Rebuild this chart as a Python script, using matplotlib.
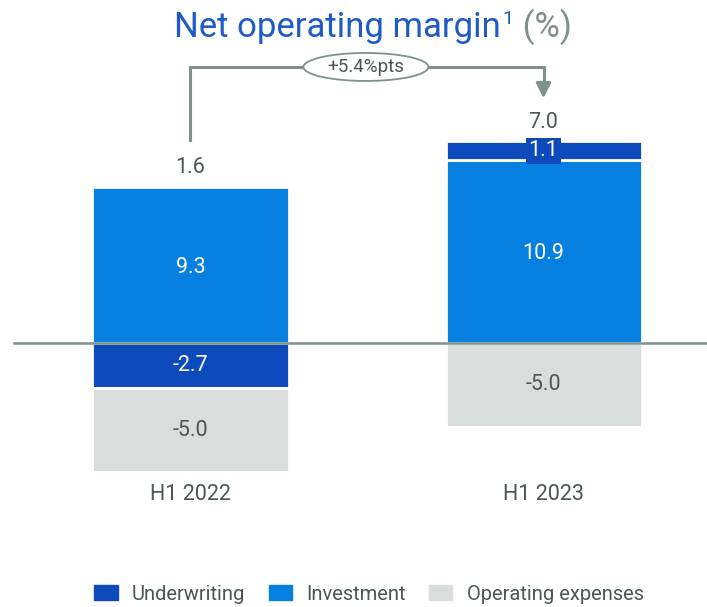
import numpy as np
import matplotlib
matplotlib.use("Agg")
import matplotlib.pyplot as plt
from matplotlib.patches import Ellipse, Patch

plt.rcParams['font.family'] = ['Roboto', 'DejaVu Sans']

# data
periods = ["H1 2022", "H1 2023"]
underwriting = [-2.7, 1.1]
investment = [9.3, 10.9]
opex = [-5.0, -5.0]
totals = [1.6, 7.0]
change_label = "+5.4%pts"

c_uw = "#0D4BBC"
c_inv = "#0580E0"
c_opex = "#D9DEDC"
c_text = "#4A5753"
c_line = "#7E918B"
c_title = "#1E5BC6"

fig = plt.figure(figsize=(7.07, 6.07), dpi=100)
ax = fig.add_axes([0, 0, 1, 1])
# map: bar centres at 190.5px and 543.5px, zero at 343px, 16.8 px per unit
ppu = 16.8
ax.set_xlim(-190.5 / 353, (707 - 190.5) / 353)
ax.set_ylim(-(607 - 343) / ppu, 343 / ppu)
ax.axis("off")

x = np.arange(len(periods))
w = 196 / 353
fs = 15.5

for i in x:
    inv = investment[i]
    uw = underwriting[i]
    op = opex[i]
    ax.bar(i, inv, w, bottom=0, color=c_inv, edgecolor="white", linewidth=2, zorder=2)
    ax.text(i, inv / 2 - 0.15, f"{inv:.1f}", ha="center", va="center", color="white", fontsize=fs, zorder=5)
    if uw >= 0:
        ax.bar(i, uw, w, bottom=inv, color=c_uw, edgecolor="white", linewidth=2, zorder=2)
        ax.text(i, inv + uw / 2, f"{uw:.1f}", ha="center", va="center", color="white", fontsize=fs, zorder=5,
                bbox=dict(boxstyle="square,pad=0.12", fc=c_uw, ec="none"))
        top = inv + uw
        ax.bar(i, op, w, bottom=0, color=c_opex, edgecolor="white", linewidth=2, zorder=2)
        ax.text(i, op / 2, f"{op:.1f}", ha="center", va="center", color=c_text, fontsize=fs, zorder=5)
    else:
        ax.bar(i, uw, w, bottom=0, color=c_uw, edgecolor="white", linewidth=2, zorder=2)
        ax.text(i, uw / 2, f"{uw:.1f}", ha="center", va="center", color="white", fontsize=fs, zorder=5)
        top = inv
        ax.bar(i, op, w, bottom=uw, color=c_opex, edgecolor="white", linewidth=2, zorder=2)
        ax.text(i, uw + op / 2, f"{op:.1f}", ha="center", va="center", color=c_text, fontsize=fs, zorder=5)
    ax.text(i, top + 1.13, f"{totals[i]:.1f}", ha="center", va="center", color=c_text, fontsize=fs)
    ax.text(i, -9.0, periods[i], ha="center", va="center", color=c_text, fontsize=fs)

# zero line
ax.plot([14 / 353 - 190.5 / 353, ax.get_xlim()[1]], [0, 0], color=c_line, lw=1.8, zorder=4)

# change bracket
y_top = 16.43
ax.plot([0, 0, 1, 1], [12.08, y_top, y_top, 15.2], color=c_line, lw=2.2, zorder=3, solid_joinstyle="miter")
ax.annotate("", xy=(1, 14.4), xytext=(1, 15.3),
            arrowprops=dict(arrowstyle="-|>,head_width=0.45,head_length=0.9", color=c_line, lw=2.2))
ell = Ellipse((0.497, y_top), 125 / 353, 28 / ppu, fc="white", ec=c_line, lw=1.3, zorder=4)
ax.add_patch(ell)
ax.text(0.497, y_top, change_label, ha="center", va="center", color=c_text, fontsize=13.5, zorder=5)

# title in pieces
fig.canvas.draw()
r = fig.canvas.get_renderer()
t1 = fig.text(0, 0, "Net operating margin", color=c_title, fontsize=25, va="baseline")
t2 = fig.text(0, 0, "1", color=c_title, fontsize=14, va="baseline")
t3 = fig.text(0, 0, " (%)", color=c_line, fontsize=25, va="baseline")
w1 = t1.get_window_extent(r).width
w2 = t2.get_window_extent(r).width
w3 = t3.get_window_extent(r).width
total_w = w1 + w2 + 3 + w3
x0 = (373 - total_w / 2) / 707
base = 1 - 37 / 607
t1.set_position((x0, base))
t2.set_position((x0 + (w1 + 2) / 707, base + 13 / 607))
t3.set_position((x0 + (w1 + w2 + 3) / 707, base))

handles = [Patch(color=c_uw, label="Underwriting"),
           Patch(color=c_inv, label="Investment"),
           Patch(color=c_opex, label="Operating expenses")]
fig.legend(handles=handles, loc="center", bbox_to_anchor=(369 / 707, 1 - 594 / 607), ncol=3,
           frameon=False, fontsize=14.5, labelcolor=c_text, handlelength=1.15, handleheight=0.8,
           columnspacing=1.15, handletextpad=0.72)

fig.savefig("out.png", dpi=100)
